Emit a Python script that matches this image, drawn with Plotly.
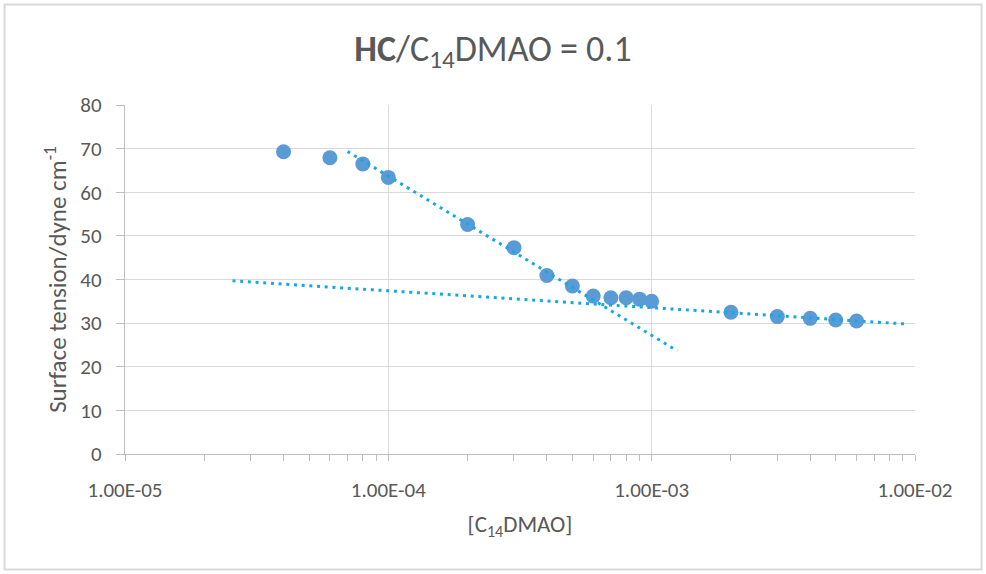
import plotly.graph_objects as go
import math

# ---- data ----
conc = [4e-5, 6e-5, 8e-5, 1e-4, 2e-4, 3e-4, 4e-4, 5e-4, 6e-4, 7e-4, 8e-4, 9e-4, 1e-3,
        2e-3, 3e-3, 4e-3, 5e-3, 6e-3]
tension = [69.3, 67.9, 66.5, 63.4, 52.6, 47.3, 40.9, 38.5, 36.2, 35.8, 35.8, 35.5, 35.0,
           32.5, 31.5, 31.1, 30.7, 30.5]

# log trendlines: y = slope*log10(x) + intercept, drawn over [x_start, x_end]
trend_slope = [-36.5, -3.87]
trend_intercept = [-82.3, 21.93]
trend_x_start = [7.0e-5, 2.56e-5]
trend_x_end = [1.25e-3, 9.3e-3]

x_tickvals = [1e-5, 1e-4, 1e-3, 1e-2]
x_ticktext = ["1.00E-05", "1.00E-04", "1.00E-03", "1.00E-02"]
y_tickvals = [0, 10, 20, 30, 40, 50, 60, 70, 80]

FONT = "Calibri, Carlito, Lato, sans-serif"
GRAY_TXT = "#595959"
GRID = "#D9D9D9"
AXIS = "#BFBFBF"

fig = go.Figure()
fig.add_trace(go.Scatter(
    x=conc, y=tension, mode="markers",
    marker=dict(size=15, color="#5B9BD5", line=dict(width=0)),
    showlegend=False, hoverinfo="x+y"))

for m, b, xs, xe in zip(trend_slope, trend_intercept, trend_x_start, trend_x_end):
    xx = [xs, xe]
    yy = [m * math.log10(v) + b for v in xx]
    fig.add_trace(go.Scatter(
        x=xx, y=yy, mode="lines",
        line=dict(color="#16A8E6", width=3, dash="3px,4.7px"),
        showlegend=False, hoverinfo="skip"))

W, H = 986, 574
L, R, T, B = 125, 71, 105, 120
pw, ph = W - L - R, H - T - B

def px2paper_x(px):
    return (px - L) / pw

def px2paper_y(py):
    return (H - B - py) / ph

fig.add_shape(type="rect", xref="paper", yref="paper",
              x0=px2paper_x(4.5), x1=px2paper_x(981.5),
              y0=px2paper_y(569.5), y1=px2paper_y(4.5),
              line=dict(color="#D9D9D9", width=2), fillcolor="rgba(0,0,0,0)",
              layer="below")

fig.update_layout(
    width=W, height=H,
    margin=dict(l=L, r=R, t=T, b=B),
    paper_bgcolor="white", plot_bgcolor="white",
    font=dict(family=FONT, color=GRAY_TXT, size=21),
    title=dict(text="<b>HC</b>/C<sub>14</sub>DMAO = 0.1",
               x=0.5, xref="container", xanchor="center",
               y=1 - 48 / H, yref="container", yanchor="middle",
               font=dict(size=36, color=GRAY_TXT, family=FONT)),
    xaxis=dict(
        type="log", range=[-5, -2],
        tickvals=x_tickvals, ticktext=x_ticktext,
        showgrid=True, gridcolor=GRID, gridwidth=1.3,
        showline=True, linecolor=AXIS, linewidth=1.3,
        ticks="outside", ticklen=6, tickcolor=AXIS, tickwidth=1.3,
        ticklabelstandoff=11,
        minor=dict(dtick="D1", ticks="outside", ticklen=6, tickcolor=AXIS,
                   tickwidth=1.3, showgrid=False),
        tickfont=dict(size=21, color=GRAY_TXT),
        title=dict(text="[C<sub>14</sub>DMAO]", font=dict(size=23, color=GRAY_TXT),
                   standoff=13),
        zeroline=False,
    ),
    yaxis=dict(
        range=[0, 80], tickvals=y_tickvals,
        showgrid=True, gridcolor=GRID, gridwidth=1.3,
        showline=True, linecolor=AXIS, linewidth=1.3,
        ticks="outside", ticklen=8, tickcolor=AXIS, tickwidth=1.3,
        ticklabelstandoff=10,
        tickfont=dict(size=21, color=GRAY_TXT),
        title=dict(text="Surface tension/dyne cm<sup>-1</sup>",
                   font=dict(size=25, color=GRAY_TXT), standoff=6),
        zeroline=False,
    ),
)

fig.write_html("out.html")
